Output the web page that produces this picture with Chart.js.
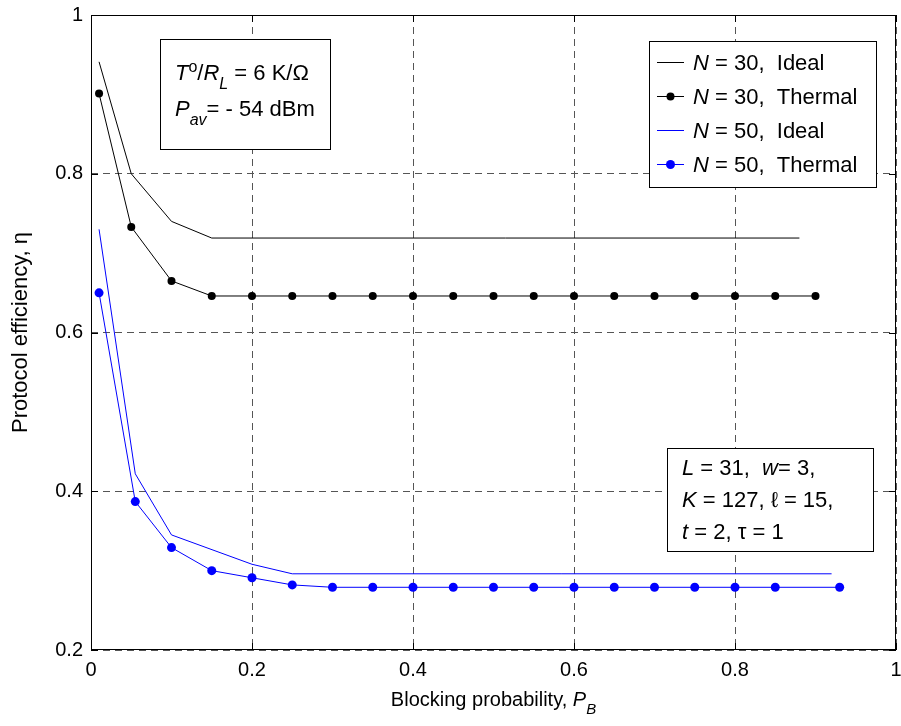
<!DOCTYPE html>
<html>
<head>
<meta charset="utf-8">
<script src="https://cdn.jsdelivr.net/npm/chart.js@4.4.0/dist/chart.umd.min.js"></script>
<style>
  html, body { margin: 0; padding: 0; background: #fff; }
  canvas { display: block; }
</style>
</head>
<body>
<canvas id="grafico" width="901" height="726"></canvas>
<script>
const FUENTE = '"Liberation Sans", Arial, Helvetica, sans-serif';

// Ejes
const xTicks = [0, 0.2, 0.4, 0.6, 0.8, 1];
const yTicks = [0.2, 0.4, 0.6, 0.8, 1];

// N = 30
const pbIdeal30 = [0.01, 0.05, 0.10, 0.15, 0.88];
const etaIdeal30 = [0.941, 0.800, 0.740, 0.719, 0.719];
const pbTermico30 = [0.01, 0.05, 0.10, 0.15, 0.20, 0.25, 0.30, 0.35, 0.40, 0.45,
                     0.50, 0.55, 0.60, 0.65, 0.70, 0.75, 0.80, 0.85, 0.90];
const etaTermico30 = [0.901, 0.733, 0.665, 0.646, 0.646, 0.646, 0.646, 0.646, 0.646, 0.646,
                      0.646, 0.646, 0.646, 0.646, 0.646, 0.646, 0.646, 0.646, 0.646];

// N = 50
const pbIdeal50 = [0.01, 0.055, 0.10, 0.20, 0.25, 0.92];
const etaIdeal50 = [0.730, 0.422, 0.345, 0.308, 0.296, 0.296];
const pbTermico50 = [0.01, 0.055, 0.10, 0.15, 0.20, 0.25, 0.30, 0.35, 0.40, 0.45,
                     0.50, 0.55, 0.60, 0.65, 0.70, 0.75, 0.80, 0.85, 0.93];
const etaTermico50 = [0.650, 0.387, 0.329, 0.300, 0.291, 0.282, 0.279, 0.279, 0.279, 0.279,
                      0.279, 0.279, 0.279, 0.279, 0.279, 0.279, 0.279, 0.279, 0.279];

// Leyenda
const leyendaN = ["30", "30", "50", "50"];
const leyendaTipo = ["Ideal", "Thermal", "Ideal", "Thermal"];

const puntos = (xs, ys) => xs.map((x, i) => ({ x: x, y: ys[i] }));
const etiqueta = v => String(+v.toFixed(2));

// texto con cursiva, subíndices y superíndices
function textoRico(ctx, x, y, partes, size, medir) {
  let cx = x;
  partes.forEach(([t, s]) => {
    const italic = s.indexOf("i") === 0;
    const sub = s.includes("sub");
    const sup = s.includes("sup");
    const fs = (sub || sup) ? Math.round(size * 0.74) : size;
    ctx.font = (italic ? "italic " : "") + fs + "px " + FUENTE;
    let dy = 0;
    if (sub) dy = size * 0.40;
    if (sup) dy = -size * 0.38;
    if (!medir) ctx.fillText(t, cx, y + dy);
    cx += ctx.measureText(t).width;
  });
  return cx - x;
}

const marco = {
  id: "marco",
  afterDatasetsDraw(chart) {
    const { ctx, chartArea: a, scales } = chart;
    const sx = scales.x, sy = scales.y;
    ctx.save();

    // caja de los ejes y marcas hacia dentro
    ctx.strokeStyle = "#000";
    ctx.lineWidth = 1;
    ctx.strokeRect(a.left + 0.5, a.top + 0.5, a.right - a.left - 1, a.bottom - a.top - 1);
    ctx.beginPath();
    xTicks.forEach(v => {
      const px = Math.round(sx.getPixelForValue(v)) + 0.5;
      ctx.moveTo(px, a.bottom); ctx.lineTo(px, a.bottom - 7);
      ctx.moveTo(px, a.top); ctx.lineTo(px, a.top + 7);
    });
    yTicks.forEach(v => {
      const py = Math.round(sy.getPixelForValue(v)) + 0.5;
      ctx.moveTo(a.left, py); ctx.lineTo(a.left + 7, py);
      ctx.moveTo(a.right, py); ctx.lineTo(a.right - 7, py);
    });
    ctx.stroke();

    ctx.fillStyle = "#000";
    ctx.textBaseline = "alphabetic";
    ctx.textAlign = "left";
    const tam = 22;
    const base = c => c + tam * 0.36;

    const caja = (x0, y0, x1, y1) => {
      ctx.fillStyle = "#fff";
      ctx.fillRect(x0, y0, x1 - x0, y1 - y0);
      ctx.strokeStyle = "#000";
      ctx.lineWidth = 1;
      ctx.strokeRect(x0 + 0.5, y0 + 0.5, x1 - x0, y1 - y0);
      ctx.fillStyle = "#000";
    };

    // cuadro de condiciones
    caja(160, 39, 330, 149);
    textoRico(ctx, 175, base(72), [["T", "i"], ["o", "sup"], ["/", "n"], ["R", "i"], ["L", "isub"], [" = 6 K/\u03A9", "n"]], tam);
    textoRico(ctx, 175, base(108), [["P", "i"], ["av", "isub"], ["= - 54 dBm", "n"]], tam);

    // parámetros del código
    caja(667, 448, 873, 551);
    textoRico(ctx, 682, base(467), [["L", "i"], [" = 31,  ", "n"], ["w", "i"], ["= 3,", "n"]], tam);
    textoRico(ctx, 682, base(499), [["K", "i"], [" = 127, ", "n"], ["\u2113", "n"], [" = 15,", "n"]], tam);
    textoRico(ctx, 682, base(531), [["t", "i"], [" = 2, \u03C4 = 1", "n"]], tam);

    // leyenda con las mismas líneas de las series
    caja(649, 41, 876, 187);
    const filas = [62, 96, 130, 164];
    chart.data.datasets.forEach((ds, i) => {
      const yc = filas[i] + 0.5;
      ctx.strokeStyle = ds.borderColor;
      ctx.lineWidth = ds.borderWidth;
      ctx.beginPath();
      ctx.moveTo(657, yc); ctx.lineTo(684, yc);
      ctx.stroke();
      if (ds.pointRadius > 0) {
        ctx.fillStyle = ds.pointBackgroundColor;
        ctx.beginPath();
        ctx.arc(670.5, yc, ds.pointRadius, 0, Math.PI * 2);
        ctx.fill();
      }
      ctx.fillStyle = "#000";
      textoRico(ctx, 693, base(filas[i]), [["N", "i"], [" = " + leyendaN[i] + ",  " + leyendaTipo[i], "n"]], tam);
    });

    // título del eje x
    const partesX = [["Blocking probability, ", "n"], ["P", "i"], ["B", "isub"]];
    const ancho = textoRico(ctx, 0, 0, partesX, 20, true);
    textoRico(ctx, (a.left + a.right) / 2 - ancho / 2, 706, partesX, 20);

    ctx.restore();
  }
};

const ctx = document.getElementById("grafico").getContext("2d");
new Chart(ctx, {
  type: "line",
  data: {
    datasets: [
      { label: "N = 30, Ideal", data: puntos(pbIdeal30, etaIdeal30),
        borderColor: "#000000", borderWidth: 1, pointRadius: 0, pointBackgroundColor: "#000000" },
      { label: "N = 30, Thermal", data: puntos(pbTermico30, etaTermico30),
        borderColor: "#000000", borderWidth: 1, pointRadius: 4, pointBorderWidth: 0, pointBackgroundColor: "#000000" },
      { label: "N = 50, Ideal", data: puntos(pbIdeal50, etaIdeal50),
        borderColor: "#0000ff", borderWidth: 1, pointRadius: 0, pointBackgroundColor: "#0000ff" },
      { label: "N = 50, Thermal", data: puntos(pbTermico50, etaTermico50),
        borderColor: "#0000ff", borderWidth: 1, pointRadius: 4.5, pointBorderWidth: 0, pointBackgroundColor: "#0000ff" }
    ]
  },
  options: {
    responsive: false,
    devicePixelRatio: 1,
    animation: false,
    layout: { padding: { top: 15, right: 5, left: 0, bottom: 0 } },
    elements: { line: { tension: 0 } },
    plugins: {
      legend: { display: false },
      tooltip: { enabled: false }
    },
    scales: {
      x: {
        type: "linear",
        min: 0, max: 1,
        afterBuildTicks: s => { s.ticks = xTicks.map(v => ({ value: v })); },
        afterFit: s => { s.height = 76; s.paddingLeft = 0; s.paddingRight = 0; },
        grid: { color: "#555", lineWidth: 1, drawTicks: false },
        border: { display: false, dash: [7, 5] },
        ticks: { color: "#000", padding: 8, font: { family: FUENTE, size: 20 }, callback: etiqueta }
      },
      y: {
        type: "linear",
        min: 0.2, max: 1,
        afterBuildTicks: s => { s.ticks = yTicks.map(v => ({ value: v })); },
        afterFit: s => { s.width = 91; s.paddingTop = 0; s.paddingBottom = 0; },
        grid: { color: "#555", lineWidth: 1, drawTicks: false },
        border: { display: false, dash: [7, 5] },
        ticks: { color: "#000", padding: 8, font: { family: FUENTE, size: 20 }, callback: etiqueta },
        title: {
          display: true,
          text: "Protocol efficiency, \u03B7",
          color: "#000",
          padding: { top: 8, bottom: 0 },
          font: { family: FUENTE, size: 22 }
        }
      }
    }
  },
  plugins: [marco]
});
</script>
</body>
</html>
